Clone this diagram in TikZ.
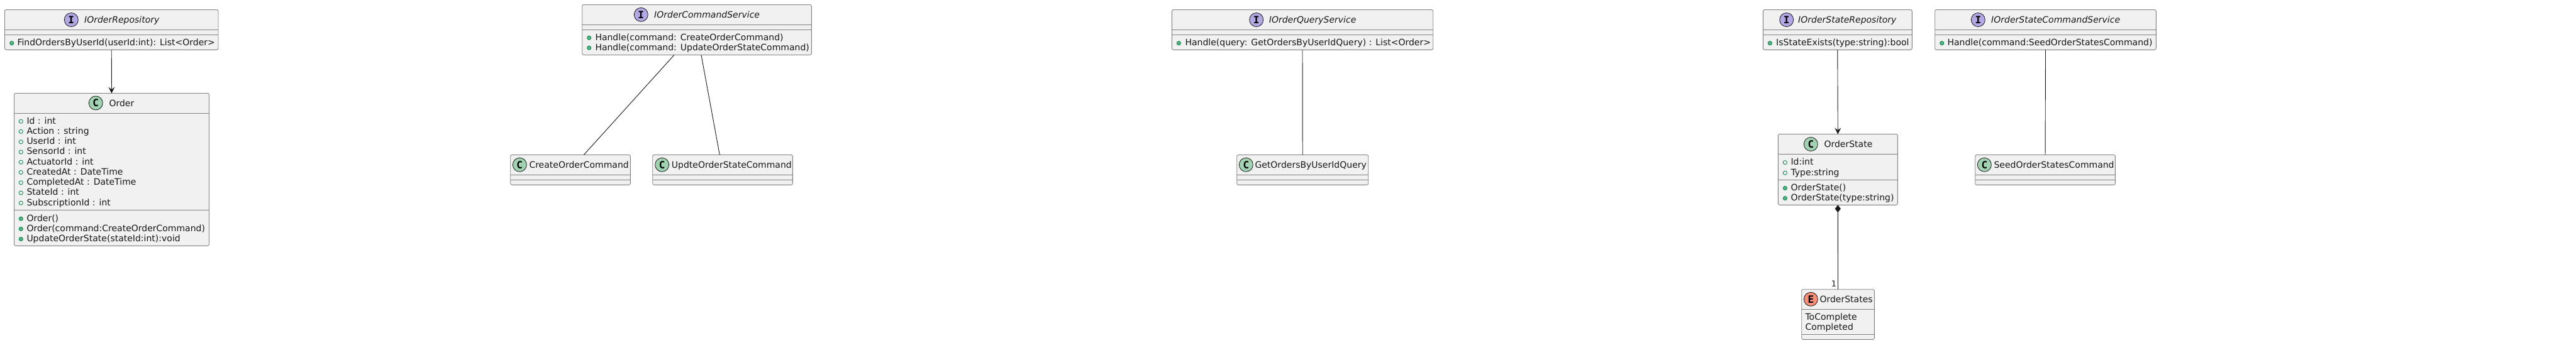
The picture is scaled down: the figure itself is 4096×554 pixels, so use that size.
\documentclass[tikz,border=0pt]{standalone}
\usepackage{fontspec}
\setmainfont{DejaVu Sans}[Ligatures=NoCommon]
\newfontfamily\iconfont{DejaVu Sans Mono}
\usetikzlibrary{arrows.meta}
\definecolor{boxfill}{HTML}{F1F1F1}
\definecolor{boxline}{HTML}{808080}
\definecolor{ink}{HTML}{181818}
\definecolor{ifill}{HTML}{B4A7E5}
\definecolor{cfill}{HTML}{A1D3B2}
\definecolor{efill}{HTML}{F98C77}
\definecolor{pubfill}{HTML}{55B583}
\definecolor{publine}{HTML}{038048}
\tikzset{
  umlbox/.style={draw=boxline,fill=boxfill,line width=0.9pt,rounded corners=2.5pt,inner sep=0pt,outer sep=0pt},
  sepline/.style={draw=boxline,line width=0.9pt},
  label/.style={font=\fontsize{14}{16}\selectfont,text=ink,inner sep=0pt,anchor=base west},
  titlelabel/.style={label,font=\fontsize{14}{16}\selectfont\itshape},
  spot/.style={circle,draw=ink,line width=0.8pt,minimum size=22pt,inner sep=0pt,font=\iconfont\bfseries\fontsize{16}{16}\selectfont,text=black},
  pubdot/.style={circle,draw=publine,fill=pubfill,line width=0.8pt,minimum size=6.2pt,inner sep=0pt},
  fielddot/.style={circle,draw=publine,fill=boxfill,line width=0.8pt,minimum size=6.2pt,inner sep=0pt},
  link/.style={draw=ink,line width=0.9pt},
  openhead/.style={-{Stealth[length=10pt,width=10pt,inset=4pt]}},
  comphead/.style={{Diamond[length=12pt,width=9pt]}-}
}
\newcount\autoid
\newcommand{\nextid}{\global\advance\autoid by 1 }
% name x1 y1 x2 y2
\newcommand{\umlnode}[5]{%
  \pgfmathsetmacro{\cxv}{(#2+#4)/2}\pgfmathsetmacro{\cyv}{-(#3+#5)/2}%
  \pgfmathsetmacro{\wv}{#4-#2}\pgfmathsetmacro{\hv}{#5-#3}%
  \node[umlbox,minimum width=\wv pt,minimum height=\hv pt] (#1) at (\cxv,\cyv) {};}
\newcommand{\sepat}[2]{\draw[sepline] (#1.west |- 0,-#2) -- (#1.east |- 0,-#2);}
% spot: letter colour x y
\newcommand{\spotat}[4]{\nextid\node[spot,fill=#2] (s\the\autoid) at (#3,-#4) {#1};}
\newcommand{\textat}[3]{\nextid\node[label] (t\the\autoid) at (#1,-#2-5) {#3};}
\newcommand{\titleat}[3]{\nextid\node[titlelabel] (t\the\autoid) at (#1,-#2-5) {#3};}
\newcommand{\pubat}[2]{\nextid\node[pubdot] (d\the\autoid) at (#1,-#2-1.2) {};}
\newcommand{\fieldat}[2]{\nextid\node[fielddot] (d\the\autoid) at (#1,-#2-1.2) {};}
\begin{document}
\begin{tikzpicture}[x=1pt,y=1pt]
\useasboundingbox (0,0) rectangle (4096,-554);
\fill[white] (0,0) rectangle (4096,-554);

% IOrderRepository
\umlnode{repo}{7.5}{15.5}{347}{79.3}
\sepat{repo}{47.5}\sepat{repo}{55.5}
\spotat{I}{ifill}{113.3}{31.5}
\titleat{134}{31.5}{IOrderRepository}
\pubat{18.7}{67.5}\textat{27.3}{67.5}{FindOrdersByUserId(userId:int): List<Order>}

% Order
\umlnode{order}{22.5}{148.5}{332.5}{391.3}
\sepat{order}{180.5}\sepat{order}{334.3}
\spotat{C}{cfill}{152.3}{164}
\textat{173.3}{164}{Order}
\fieldat{33.3}{192}\textat{42.3}{192}{Id : int}
\fieldat{33.3}{208.2}\textat{42.3}{208.2}{Action : string}
\fieldat{33.3}{224.6}\textat{42.3}{224.6}{UserId : int}
\fieldat{33.3}{240.8}\textat{42.3}{240.8}{SensorId : int}
\fieldat{33.3}{257}\textat{42.3}{257}{ActuatorId : int}
\fieldat{33.3}{273.2}\textat{42.3}{273.2}{CreatedAt : DateTime}
\fieldat{33.3}{289.6}\textat{42.3}{289.6}{CompletedAt : DateTime}
\fieldat{33.3}{305.8}\textat{42.3}{305.8}{StateId : int}
\fieldat{33.3}{322}\textat{42.3}{322}{SubscriptionId : int}
\pubat{33.3}{347}\textat{42.3}{347}{Order()}
\pubat{33.3}{363.2}\textat{42.3}{363.2}{Order(command:CreateOrderCommand)}
\pubat{33.3}{379.4}\textat{42.3}{379.4}{UpdateOrderState(stateId:int):void}

\draw[link,openhead] (repo.south) -- (order.north);

% IOrderCommandService
\umlnode{cmdsvc}{925.7}{7.5}{1290.3}{87.5}
\sepat{cmdsvc}{39.5}\sepat{cmdsvc}{47.5}
\spotat{I}{ifill}{1019.3}{23.3}
\titleat{1040}{23.3}{IOrderCommandService}
\pubat{936.7}{59}\textat{946.3}{59}{Handle(command: CreateOrderCommand)}
\pubat{936.7}{75}\textat{946.3}{75}{Handle(command: UpdateOrderStateCommand)}

% CreateOrderCommand
\umlnode{create}{811.7}{246.5}{1002.3}{294.3}
\sepat{create}{278.3}\sepat{create}{286.3}
\spotat{C}{cfill}{826.3}{262.3}
\textat{841.3}{262.3}{CreateOrderCommand}

% UpdteOrderStateCommand
\umlnode{update}{1037.7}{246.5}{1260.3}{294.3}
\sepat{update}{278.3}\sepat{update}{286.3}
\spotat{C}{cfill}{1052.7}{262.3}
\textat{1067.7}{262.3}{UpdteOrderStateCommand}

\draw[link] ([xshift=-36pt]cmdsvc.south) -- ([xshift=21.3pt]create.north);
\draw[link] ([xshift=7pt]cmdsvc.south) -- ([xshift=-4.7pt]update.north);

% IOrderQueryService
\umlnode{qrysvc}{1863.3}{15.5}{2278.7}{79.3}
\sepat{qrysvc}{47.5}\sepat{qrysvc}{55.5}
\spotat{I}{ifill}{1997.7}{31.5}
\titleat{2017.7}{31.5}{IOrderQueryService}
\pubat{1874.3}{67.5}\textat{1884.3}{67.5}{Handle(query: GetOrdersByUserIdQuery) : List<Order>}

% GetOrdersByUserIdQuery
\umlnode{getq}{1966.7}{246.5}{2175.7}{294.3}
\sepat{getq}{278.3}\sepat{getq}{286.3}
\spotat{C}{cfill}{1981.3}{262.3}
\textat{1995.3}{262.3}{GetOrdersByUserIdQuery}

\draw[link] (qrysvc.south) -- (getq.north);

% IOrderStateRepository
\umlnode{staterepo}{2803.3}{15.5}{3040.3}{79.3}
\sepat{staterepo}{47.5}\sepat{staterepo}{55.5}
\spotat{I}{ifill}{2840.7}{31.5}
\titleat{2859}{31.5}{IOrderStateRepository}
\pubat{2814.3}{67.5}\textat{2824}{67.5}{IsStateExists(type:string):bool}

% OrderState
\umlnode{state}{2827.3}{213.5}{3017.3}{326.3}
\sepat{state}{245.7}\sepat{state}{286.3}
\spotat{C}{cfill}{2879.3}{229.5}
\textat{2900.3}{229.5}{OrderState}
\fieldat{2838.3}{257.5}\textat{2847.3}{257.5}{Id:int}
\fieldat{2838.3}{274}\textat{2847.3}{274}{Type:string}
\pubat{2838.3}{298.3}\textat{2847.3}{298.3}{OrderState()}
\pubat{2838.3}{314.4}\textat{2847.3}{314.4}{OrderState(type:string)}

\draw[link,openhead] (staterepo.south) -- (state.north);

% OrderStates
\umlnode{states}{2864.7}{460.7}{2980.3}{540.3}
\sepat{states}{492.3}\sepat{states}{532.3}
\spotat{E}{efill}{2879.3}{476.3}
\textat{2893.3}{476.3}{OrderStates}
\textat{2870.3}{504}{ToComplete}
\textat{2870.3}{520}{Completed}

\draw[link,comphead] (state.south) -- node[pos=1,anchor=south east,xshift=-2pt,yshift=4pt,font=\fontsize{13}{13}\selectfont,text=ink,inner sep=0pt] (one) {1} (states.north);

% IOrderStateCommandService
\umlnode{statecmd}{3076.7}{15.5}{3428.3}{79.3}
\sepat{statecmd}{47.5}\sepat{statecmd}{55.5}
\spotat{I}{ifill}{3145.3}{31.5}
\titleat{3166}{31.5}{IOrderStateCommandService}
\pubat{3087.7}{67.5}\textat{3096.3}{67.5}{Handle(command:SeedOrderStatesCommand)}

% SeedOrderStatesCommand
\umlnode{seed}{3140.7}{246.5}{3363.3}{294.3}
\sepat{seed}{278.3}\sepat{seed}{286.3}
\spotat{C}{cfill}{3155.3}{262.3}
\textat{3170.3}{262.3}{SeedOrderStatesCommand}

\draw[link] (statecmd.south) -- (seed.north);
\end{tikzpicture}
\end{document}
